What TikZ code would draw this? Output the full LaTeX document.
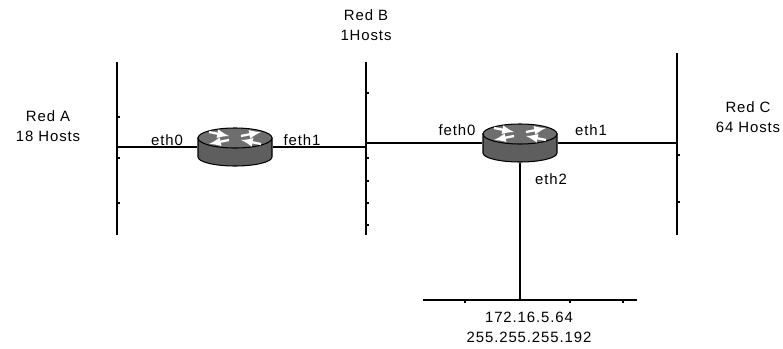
\documentclass[tikz,border=0pt]{standalone}
\usepackage{fontspec}
\setmainfont{Liberation Sans}[LetterSpace=6]
\usepackage{tikz}
\usetikzlibrary{arrows, positioning}
\definecolor{routergray}{RGB}{94,94,94}
\definecolor{routertop}{RGB}{110,110,110}

\begin{document}
\begin{tikzpicture}[x=0.02cm,y=-0.02cm,line width=1.1pt,
    lbl/.style={font=\fontsize{8.5}{11.4}\selectfont,align=center,inner sep=0pt},
    router/.style={rectangle,minimum width=1.48cm,minimum height=0.76cm,inner sep=0pt}]
    \useasboundingbox (0,0) rectangle (783,348);

    % Segmenti di rete
    \coordinate (aTop) at (117,62);  \coordinate (aBot) at (117,235);
    \coordinate (bTop) at (366,62);  \coordinate (bBot) at (366,235);
    \coordinate (cTop) at (677,53);  \coordinate (cBot) at (677,235);
    \coordinate (dL) at (423,300);   \coordinate (dR) at (637,300);
    \draw (aTop) -- (aBot);
    \draw (bTop) -- (bBot);
    \draw (cTop) -- (cBot);
    \draw (dL) -- (dR);
    \foreach \y in {117,158,203} \draw (117,\y) -- ++(3,0);
    \foreach \y in {93,158,181,203,225} \draw (366,\y) -- ++(3,0);
    \foreach \y in {155,202} \draw (677,\y) -- ++(3,0);
    \foreach \x in {465,570,623} \draw (\x,300) -- ++(0,3);

    % Router
    \node[router] (r1) at (235,147) {};
    \node[router] (r2) at (520,143) {};
    \coordinate (a1) at (117,147);
    \coordinate (b1) at (366,147);
    \coordinate (b2) at (366,143);
    \coordinate (c1) at (677,143);
    \coordinate (d1) at (520,300);
    \draw (a1) -- (r1);
    \draw (r1) -- (b1);
    \draw (b2) -- (r2);
    \draw (r2) -- (c1);
    \draw (r2) -- (d1);
    \foreach \rt in {r1,r2} {
        \begin{scope}[shift={(\rt.center)},line width=0.6pt]
            \filldraw[fill=routergray] (-37,-9) -- (-37,10)
                arc[start angle=180,end angle=0,x radius=37,y radius=9] -- (37,-9) -- cycle;
            \filldraw[fill=routertop] (0,-9) ellipse[x radius=37,y radius=10];
            \begin{scope}[white,line width=1.3pt,-latex]
                \draw (-26,-15) -- (-6,-11);
                \draw (26,-3) -- (6,-7);
                \draw (6,-11) -- (26,-15);
                \draw (-6,-7) -- (-26,-3);
            \end{scope}
        \end{scope}
    }

    % Etichette
    \node[lbl] (redA) at (48,126) {Red A\\18 Hosts};
    \node[lbl] (redB) at (366,25) {Red B\\1Hosts};
    \node[lbl] (redC) at (748,117) {Red C\\64 Hosts};
    \node[lbl] (eth0) at (167,140) {eth0};
    \node[lbl] (feth1) at (302,140) {feth1};
    \node[lbl] (feth0) at (457,130) {feth0};
    \node[lbl] (eth1) at (591,130) {eth1};
    \node[lbl] (eth2) at (551,179) {eth2};
    \node[lbl] (net) at (529,327) {172.16.5.64\\255.255.255.192};
\end{tikzpicture}
\end{document}
